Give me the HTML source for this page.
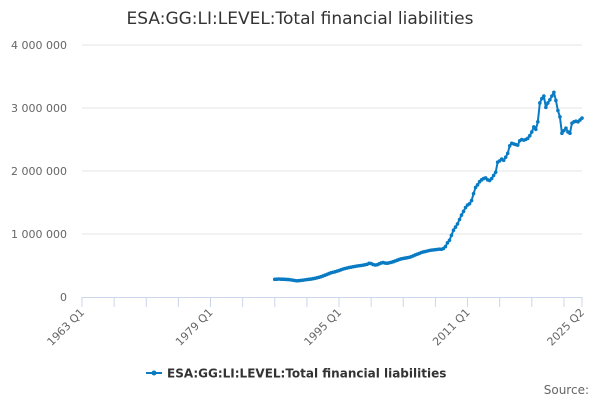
<!DOCTYPE html>
<html><head><meta charset="utf-8"><style>
body{margin:0;background:#fff;font-family:"DejaVu Sans","Liberation Sans",sans-serif}
</style></head><body>
<svg id="chart" width="600" height="400" viewBox="0 0 600 400" font-family="DejaVu Sans, Liberation Sans, sans-serif">
<text x="300" y="24" text-anchor="middle" font-size="17" fill="#333">ESA:GG:LI:LEVEL:Total financial liabilities</text>
<g id="grid"></g><g id="xaxis"></g><g id="series"></g>
<g>
<line x1="146" y1="373" x2="162" y2="373" stroke="#0a7bc2" stroke-width="2"/>
<circle cx="154" cy="373" r="2.5" fill="#0a7bc2"/>
<text x="167" y="377.5" font-size="12" font-weight="bold" fill="#333">ESA:GG:LI:LEVEL:Total financial liabilities</text>
</g>
<text x="589" y="394" text-anchor="end" font-size="12" fill="#666">Source:</text>
</svg>
<script>
const yTicks=[0,1000000,2000000,3000000,4000000];
const yTickLabels=["0","1 000 000","2 000 000","3 000 000","4 000 000"];
const xTickLabels=["1963 Q1","1979 Q1","1995 Q1","2011 Q1","2025 Q2"];
const xTickIndex=[0,64,128,192,249];
const startIndex=96;
const values=[
280,282,285,283, 282,280,278,276, 272,268,262,258, 260,264,268,272,
276,280,284,290, 296,304,312,322, 334,346,358,372, 384,392,400,410,
420,432,444,452, 460,468,474,480, 486,492,496,500, 506,512,520,534,
530,516,508,512, 526,540,546,538, 536,542,550,560, 572,584,596,606,
612,618,624,630, 640,654,668,680, 692,706,716,722, 730,738,744,748,
752,756,760,758, 770,800,860,900, 980,1060,1110,1160, 1230,1300,1360,1420,
1460,1480,1530,1640, 1740,1780,1830,1860, 1880,1890,1860,1850, 1880,1930,1980,2140,
2160,2190,2170,2220, 2280,2400,2440,2430, 2420,2410,2480,2500, 2490,2500,2520,2560,
2620,2700,2660,2780, 3080,3150,3190,3010, 3080,3130,3190,3250, 3120,2960,2860,2600,
2640,2680,2620,2600, 2760,2780,2790,2780, 2810,2840];
const NS="http://www.w3.org/2000/svg";
const x0=82,x1=582,nQ=249,yBase=297,yTop=45,yMax=4000000;
const xs=i=>x0+(x1-x0)*i/nQ;
const ys=v=>yBase-(yBase-yTop)*v/yMax;
function mk(t,a,p){const e=document.createElementNS(NS,t);for(const k in a)e.setAttribute(k,a[k]);p.appendChild(e);return e;}
const grid=document.getElementById('grid');
yTicks.forEach((v,i)=>{
  if(i>0){const l=mk('line',{x1:x0,x2:x1,y1:ys(v),y2:ys(v),stroke:'#e6e6e6','stroke-width':1},grid);
  
  }
  const t=mk('text',{x:67,y:ys(v)+4,'text-anchor':'end','font-size':11,fill:'#666'},grid);
  t.textContent=yTickLabels[i];
  
  
});
const xa=document.getElementById('xaxis');
const ax=mk('line',{x1:x0,x2:x1,y1:yBase+0.5,y2:yBase+0.5,stroke:'#ccd6eb'},xa);


for(let q=0;q<=nQ;q+=16){const tk=mk('line',{x1:xs(q),x2:xs(q),y1:yBase,y2:yBase+10,stroke:'#ccd6eb'},xa);

}
mk('line',{x1:xs(nQ),x2:xs(nQ),y1:yBase,y2:yBase+10,stroke:'#ccd6eb'},xa);
xTickLabels.forEach((s,i)=>{
  const x=xs(xTickIndex[i]),y=yBase+16;
  const t=mk('text',{x:x+3,y:y,'text-anchor':'end','font-size':11,fill:'#666',transform:`rotate(-45 ${x+3} ${y})`},xa);
  t.textContent=s;
  
  
});
const sg=document.getElementById('series');
const pts=values.map((v,i)=>[xs(startIndex+i),ys(v*1000)]);
const pl=mk('polyline',{points:pts.map(p=>p.join(',')).join(' '),fill:'none',stroke:'#0a7bc2','stroke-width':2,'stroke-linejoin':'round'},sg);


pts.forEach(p=>{const c=mk('circle',{cx:p[0],cy:p[1],r:1.8,fill:'#0a7bc2'},sg);

});
</script>
</body></html>
